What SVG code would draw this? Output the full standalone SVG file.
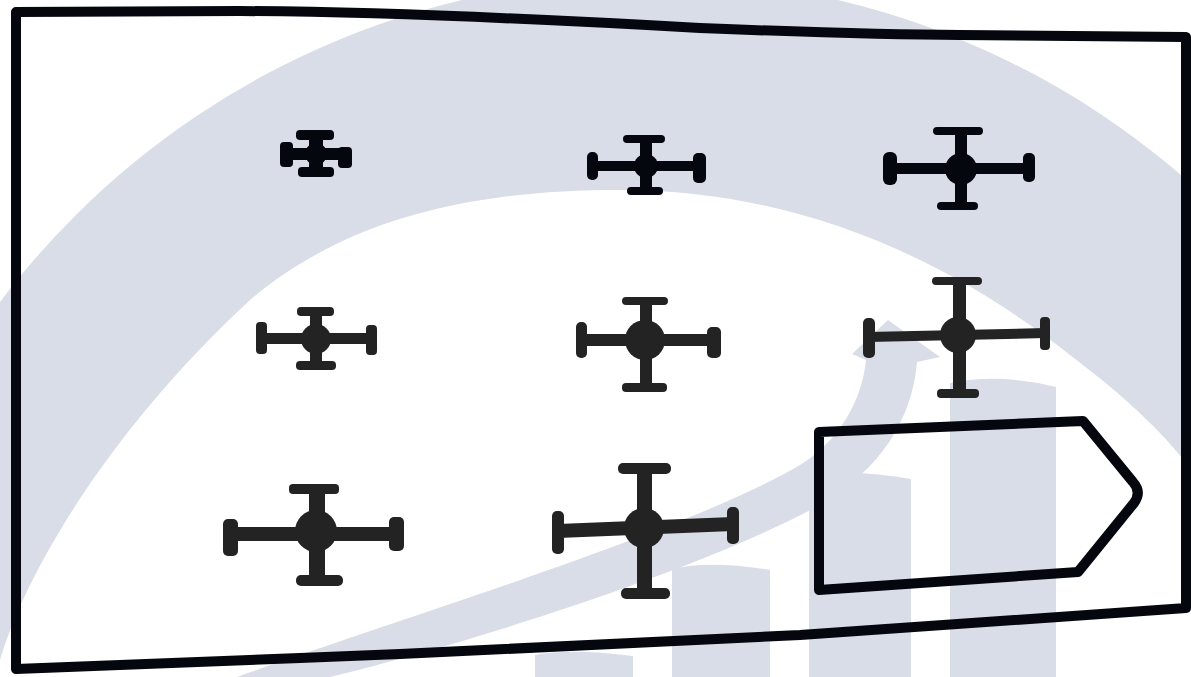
<svg xmlns="http://www.w3.org/2000/svg" width="1191" height="677" viewBox="0 0 1191 677">
<style>
.wm{fill:#d9dde8}
.k{fill:#05070f}
.g{fill:#232323}
.line{fill:none;stroke:#05070f;stroke-width:10;stroke-linejoin:round}
</style>
<rect width="1191" height="677" fill="#ffffff"/>
<g id="watermark">
<circle class="wm" cx="650" cy="792" r="814"/>
<path fill="#ffffff" d="M0,660 C30,560 120,420 250,300 C350,215 480,190 620,190 C800,190 950,260 1070,355 C1130,400 1170,440 1191,470 L1191,677 L0,677 Z"/>
<path class="wm" d="M237,677 C420,612 690,530 800,465 C840,440 862,400 866,360 L852,354 L888,320 L940,357 L917,362 C912,420 880,470 820,505 C700,570 480,640 330,677 Z"/>
<path class="wm" d="M535,677 L535,655 Q570,648 633,656 L633,677 Z"/>
<path class="wm" d="M672,677 L672,569 Q710,560 770,570 L770,677 Z"/>
<path class="wm" d="M809,677 L809,478 Q850,468 911,479 L911,677 Z"/>
<path class="wm" d="M950,677 L950,383 Q1000,373 1056,387 L1056,677 Z"/>
</g>
<g id="frame">
<path class="line" stroke-width="11" d="M16,12 L240,11 C400,12 560,20 700,28 C800,32 900,35 960,35 L1186,37 L1186,608 L800,635 L400,654 L300,658 L16,669 Z"/>
</g>
<g id="cross1" class="k">
<rect x="284" y="148" width="66" height="12"/>
<rect x="309" y="134" width="14" height="40"/>
<circle cx="316" cy="154" r="11"/>
<rect x="296" y="130" width="38" height="10" rx="4"/>
<rect x="298" y="167" width="36" height="10" rx="4"/>
<rect x="280" y="142" width="13" height="25" rx="4"/>
<rect x="338" y="147" width="14" height="21" rx="4"/>
</g>
<g id="cross2" class="k">
<rect x="590" y="161" width="113" height="10"/>
<rect x="640" y="137" width="12" height="56"/>
<circle cx="646" cy="166" r="12"/>
<rect x="623" y="135" width="42" height="8" rx="4"/>
<rect x="627" y="187" width="36" height="8" rx="4"/>
<rect x="587" y="152" width="11" height="28" rx="5"/>
<rect x="693" y="153" width="13" height="30" rx="5"/>
</g>
<g id="cross3" class="k">
<rect x="890" y="163" width="140" height="11"/>
<rect x="955" y="130" width="12" height="76"/>
<circle cx="961" cy="169" r="16"/>
<rect x="933" y="127" width="50" height="8" rx="4"/>
<rect x="937" y="202" width="41" height="8" rx="4"/>
<rect x="883" y="152" width="14" height="33" rx="6"/>
<rect x="1023" y="153" width="12" height="29" rx="5"/>
</g>
<g id="cross4" class="g">
<rect x="260" y="333" width="112" height="11"/>
<rect x="310" y="310" width="12" height="55"/>
<circle cx="316" cy="339" r="15"/>
<rect x="297" y="307" width="37" height="9" rx="4"/>
<rect x="296" y="361" width="40" height="9" rx="4"/>
<rect x="256" y="322" width="11" height="32" rx="4"/>
<rect x="366" y="325" width="11" height="30" rx="4"/>
</g>
<g id="cross5" class="g">
<rect x="580" y="334" width="137" height="12"/>
<rect x="640" y="300" width="12" height="88"/>
<circle cx="645" cy="340" r="20"/>
<rect x="622" y="297" width="46" height="8" rx="4"/>
<rect x="622" y="383" width="45" height="9" rx="4"/>
<rect x="576" y="322" width="11" height="36" rx="5"/>
<rect x="707" y="327" width="14" height="31" rx="5"/>
</g>
<g id="cross6" class="g">
<path d="M868,332 L1046,328 L1046,338 L868,342 Z"/>
<rect x="953" y="280" width="13" height="112"/>
<circle cx="958" cy="335" r="18"/>
<rect x="932" y="277" width="50" height="8" rx="4"/>
<rect x="937" y="389" width="42" height="9" rx="4"/>
<rect x="863" y="318" width="12" height="40" rx="5"/>
<rect x="1040" y="317" width="10" height="33" rx="4"/>
</g>
<g id="cross7" class="g">
<rect x="228" y="527" width="172" height="14"/>
<rect x="309" y="488" width="16" height="92"/>
<circle cx="316" cy="531" r="21"/>
<rect x="289" y="484" width="50" height="10" rx="4"/>
<rect x="296" y="575" width="47" height="11" rx="5"/>
<rect x="223" y="519" width="15" height="37" rx="5"/>
<rect x="389" y="517" width="15" height="34" rx="5"/>
</g>
<g id="cross8" class="g">
<path d="M558,524 L733,517 L733,531 L558,538 Z"/>
<rect x="637" y="468" width="15" height="124"/>
<circle cx="644" cy="528" r="20"/>
<rect x="618" y="463" width="53" height="11" rx="5"/>
<rect x="621" y="588" width="49" height="11" rx="5"/>
<rect x="552" y="511" width="12" height="43" rx="5"/>
<rect x="727" y="507" width="12" height="37" rx="5"/>
</g>
<g id="tag">
<path class="line" d="M819,432 L1083,421 L1133,482 Q1142,492 1134,503 L1078,572 L819,590 Z"/>
</g>
</svg>
